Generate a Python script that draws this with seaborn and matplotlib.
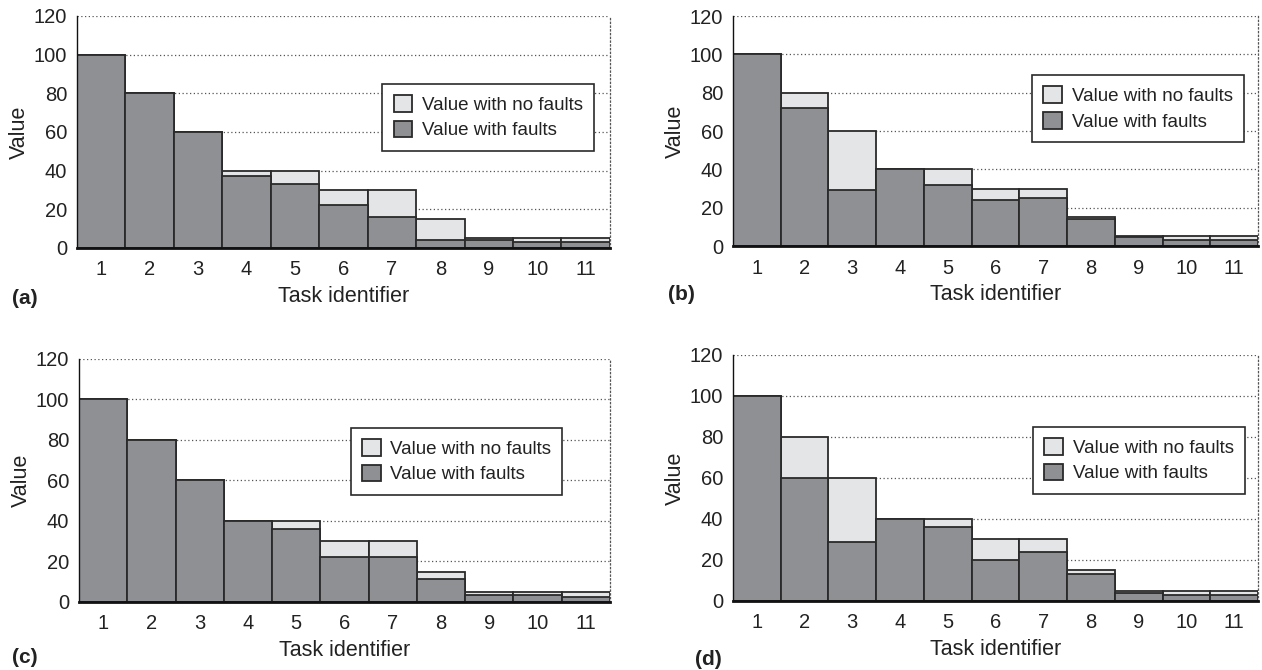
import numpy as np
import pandas as pd
import seaborn as sns
import matplotlib.pyplot as plt

# Task ids and values
tasks = [str(i) for i in range(1, 12)]
no_faults = [100, 80, 60, 40, 40, 30, 30, 15, 5, 5, 5]

faults_a = [100, 80, 60, 37, 33, 22, 16, 4, 4, 3, 3]
faults_b = [100, 72, 29, 40, 32, 24, 25, 14, 4.5, 3, 3]
faults_c = [100, 80, 60, 40, 36, 22, 22, 11.5, 3.3, 3.3, 2.5]
faults_d = [100, 60, 29, 40, 36, 20, 24, 13, 4, 3, 3]

panel_labels = ['(a)', '(b)', '(c)', '(d)']
legend_labels = ['Value with no faults', 'Value with faults']

sns.set_style('white')
plt.rcParams['font.family'] = ['Liberation Sans', 'DejaVu Sans']
plt.rcParams['text.color'] = '#222222'
plt.rcParams['axes.labelcolor'] = '#222222'
plt.rcParams['xtick.color'] = '#222222'
plt.rcParams['ytick.color'] = '#222222'

light = '#e4e5e7'
dark = '#8f9094'
edge = '#2a2a2a'

fig = plt.figure(figsize=(12.62, 6.70), dpi=100)

# axes rectangles in figure fractions
rects = [
    [0.0610, 0.6299, 0.4223, 0.3463],
    [0.5808, 0.6328, 0.4160, 0.3433],
    [0.0626, 0.1015, 0.4208, 0.3627],
    [0.5808, 0.1030, 0.4160, 0.3672],
]
legend_anchor = [(0.970, 0.707), (0.973, 0.743), (0.910, 0.716), (0.975, 0.707)]
label_pos = [(0.0095, 0.555), (0.529, 0.560), (0.0095, 0.018), (0.551, 0.015)]

for k, faults in enumerate([faults_a, faults_b, faults_c, faults_d]):
    ax = fig.add_axes(rects[k])
    df = pd.DataFrame({
        'Task identifier': tasks * 2,
        'Value': no_faults + faults,
        'kind': [legend_labels[0]] * 11 + [legend_labels[1]] * 11,
    })
    sns.barplot(data=df, x='Task identifier', y='Value', hue='kind',
                hue_order=legend_labels, palette=[light, dark], dodge=False,
                width=1.0, edgecolor=edge, linewidth=1.3, saturation=1,
                ax=ax)

    ax.set_xlim(-0.5, 10.5)
    ax.set_ylim(0, 120)
    ax.set_yticks(range(0, 121, 20))
    for y in range(20, 121, 20):
        ax.axhline(y, color='#555555', linestyle=(0, (1, 2)), linewidth=0.9, zorder=0)
    ax.set_axisbelow(True)

    ax.spines['top'].set_visible(False)
    ax.spines['right'].set_linestyle((0, (1, 2)))
    ax.spines['right'].set_color('#555555')
    ax.spines['right'].set_linewidth(0.9)
    ax.spines['left'].set_color('#111111')
    ax.spines['left'].set_linewidth(1.0)
    ax.spines['bottom'].set_color('#111111')
    ax.spines['bottom'].set_linewidth(2.0)

    ax.tick_params(axis='both', length=0, labelsize=14.5)
    ax.tick_params(axis='x', pad=9)
    ax.tick_params(axis='y', pad=7)
    ax.set_xlabel('Task identifier', fontsize=15.5, labelpad=5)
    ax.set_ylabel('Value', fontsize=15.5, labelpad=3)

    handles, labels = ax.get_legend_handles_labels()
    leg = ax.legend(handles, labels, loc='upper right',
                    bbox_to_anchor=legend_anchor[k], fontsize=13.5,
                    frameon=True, fancybox=False, framealpha=1,
                    edgecolor=edge, handlelength=1.0, handleheight=1.0,
                    handletextpad=0.5, labelspacing=0.35, borderpad=0.6,
                    borderaxespad=0)
    leg.get_frame().set_linewidth(1.2)

    fig.text(label_pos[k][0], label_pos[k][1], panel_labels[k],
             fontsize=15, fontweight='bold', ha='left', va='center')

fig.savefig('out.png', dpi=100)
